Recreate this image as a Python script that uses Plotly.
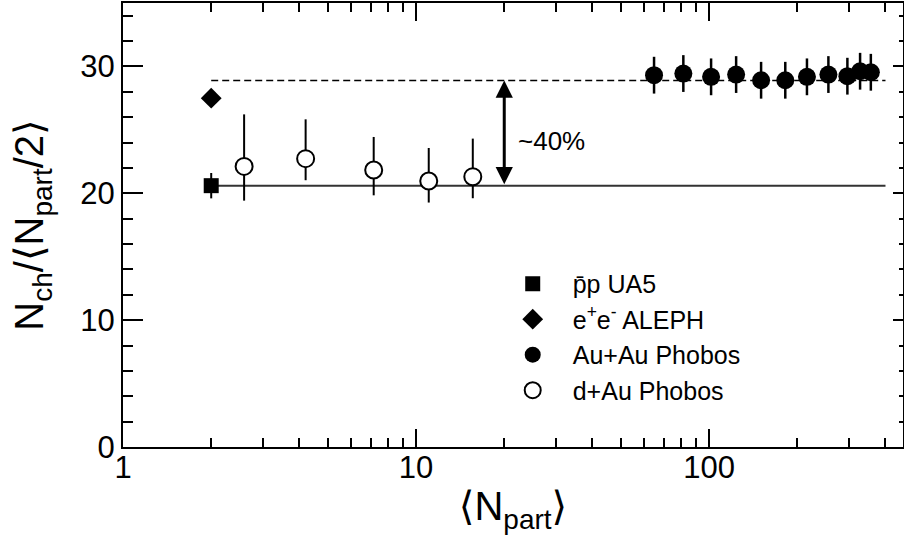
import math
import plotly.graph_objects as go

# ---------------- data ----------------
pp_x = [2.0]
pp_y = [20.6]
pp_err = [1.0]

ee_x = [2.0]
ee_y = [27.5]

auau_x = [64.9, 81.7, 101.6, 123.7, 150.5, 182.0, 215.8, 255.4, 296.5, 327.6, 356.5]
auau_y = [29.31, 29.44, 29.18, 29.36, 28.91, 28.91, 29.18, 29.36, 29.23, 29.62, 29.54]
auau_err = [1.45] * 11

dau_x = [2.59, 4.20, 7.17, 11.05, 15.62]
dau_y = [22.12, 22.73, 21.84, 20.97, 21.31]
dau_err_plus = [4.1, 3.1, 2.6, 2.6, 3.0]
dau_err_minus = [2.7, 1.7, 2.0, 1.7, 1.7]

ref_x = [2.0, 400.0]
pp_level = 20.6
aa_level = 28.9
arrow_x = 20.0
label_text = "~40%"
label_x = 22.0
label_y = 24.1

x_range = [1.0, 459.0]
y_range = [0, 35]
x_major = [1, 10, 100]
x_minor = [2, 3, 4, 5, 6, 7, 8, 9, 20, 30, 40, 50, 60, 70, 80, 90, 200, 300, 400]

FONT = "Liberation Sans, Arial, DejaVu Sans, sans-serif"

fig = go.Figure()

fig.add_trace(go.Scatter(x=ref_x, y=[pp_level, pp_level], mode="lines",
                         line=dict(color="#333333", width=2), showlegend=False, hoverinfo="skip"))
fig.add_trace(go.Scatter(x=ref_x, y=[aa_level, aa_level], mode="lines",
                         line=dict(color="black", width=1.5, dash="7px,4px"), showlegend=False, hoverinfo="skip"))

fig.add_trace(go.Scatter(x=pp_x, y=pp_y, mode="markers", name="p\u0304p UA5",
                         marker=dict(symbol="square", size=15, color="black"),
                         error_y=dict(type="data", array=pp_err, color="black", thickness=2, width=0)))
fig.add_trace(go.Scatter(x=ee_x, y=ee_y, mode="markers", name="e<sup>+</sup>e<sup>-</sup> ALEPH",
                         marker=dict(symbol="diamond", size=16, color="black")))
fig.add_trace(go.Scatter(x=auau_x, y=auau_y, mode="markers", name="Au+Au Phobos",
                         marker=dict(symbol="circle", size=18, color="black"),
                         error_y=dict(type="data", array=auau_err, color="black", thickness=2.5, width=0)))
fig.add_trace(go.Scatter(x=dau_x, y=dau_y, mode="markers", name="d+Au Phobos",
                         marker=dict(symbol="circle", size=17, color="white",
                                     line=dict(color="black", width=2)),
                         error_y=dict(type="data", symmetric=False, array=dau_err_plus,
                                      arrayminus=dau_err_minus, color="black", thickness=2, width=0)))

# dummy trace for mirror axes
fig.add_trace(go.Scatter(x=[], y=[], xaxis="x2", yaxis="y2", showlegend=False, hoverinfo="skip"))

lx = [math.log10(v) for v in x_range]

fig.add_annotation(x=math.log10(arrow_x), y=aa_level, ax=math.log10(arrow_x), ay=pp_level,
                   xref="x", yref="y", axref="x", ayref="y", showarrow=True,
                   arrowhead=2, startarrowhead=2, arrowside="end+start", arrowwidth=3,
                   arrowsize=1.15, startarrowsize=1.15, arrowcolor="black", text="", standoff=0, startstandoff=0)
fig.add_annotation(x=math.log10(label_x), y=label_y, xref="x", yref="y", text=label_text,
                   showarrow=False, xanchor="left", yanchor="middle",
                   font=dict(size=26, color="black", family=FONT))

axis_common = dict(showline=True, linecolor="black", linewidth=2, showgrid=False,
                   zeroline=False, ticks="inside", tickcolor="black", tickwidth=2)

fig.update_layout(
    width=904, height=550,
    margin=dict(l=123, r=1, t=3, b=103),
    paper_bgcolor="white", plot_bgcolor="white",
    font=dict(family=FONT, color="black"),
    xaxis=dict(type="log", range=lx, tickvals=x_major, ticktext=[str(v) for v in x_major],
               ticklen=18, tickfont=dict(size=31), ticklabelstandoff=-8,
               minor=dict(tickvals=x_minor, ticks="inside", ticklen=9, tickcolor="black", tickwidth=2),
               title=dict(text="\u27e8N<sub>part</sub>\u27e9", font=dict(size=40), standoff=8),
               **axis_common),
    yaxis=dict(range=y_range, dtick=10, ticklen=20, tickfont=dict(size=31),
               minor=dict(dtick=2, ticks="inside", ticklen=10, tickcolor="black", tickwidth=2),
               title=dict(text="N<sub>ch</sub>/\u27e8N<sub>part</sub>/2\u27e9", font=dict(size=40), standoff=24),
               **axis_common),
    xaxis2=dict(type="log", range=lx, overlaying="x", side="top", anchor="y", tickvals=x_major,
                showticklabels=False, ticklen=18,
                minor=dict(tickvals=x_minor, ticks="inside", ticklen=9, tickcolor="black", tickwidth=2),
                **axis_common),
    yaxis2=dict(range=y_range, overlaying="y", side="right", anchor="x", dtick=10,
                showticklabels=False, ticklen=10,
                minor=dict(dtick=2, ticks="inside", ticklen=4, tickcolor="black", tickwidth=2),
                **axis_common),
    legend=dict(x=0.474, y=0.419, xanchor="left", yanchor="top", bgcolor="rgba(0,0,0,0)",
                font=dict(size=25), itemwidth=70, tracegroupgap=0),
    showlegend=True,
)

fig.write_html("out.html")
